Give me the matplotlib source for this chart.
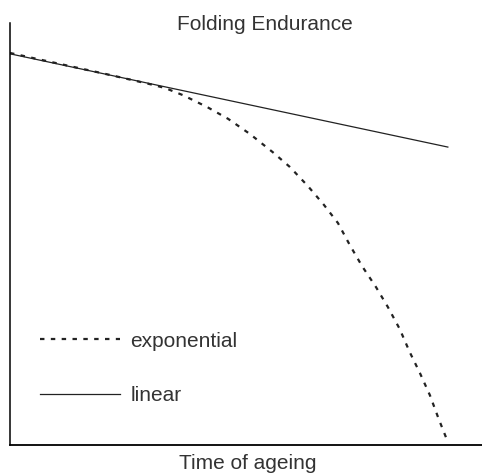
import matplotlib
matplotlib.use("Agg")
from matplotlib import pyplot as plt

plt.rcParams['font.family'] = ['Liberation Sans', 'DejaVu Sans']
plt.rcParams['lines.scale_dashes'] = False

# time of ageing (arbitrary units) and folding endurance (arbitrary units)
t_lin = [0.0, 10.0]
fe_lin = [92.7, 70.6]

t_exp = [0.0, 1.14, 2.28, 3.20, 3.54, 3.95, 4.50, 4.98, 5.48, 6.00, 6.39,
         6.80, 7.17, 7.49, 7.76, 8.04, 8.36, 8.63, 8.90, 9.13, 9.36, 9.59,
         9.79, 10.0]
fe_exp = [92.9, 90.3, 87.7, 85.5, 84.6, 82.9, 80.1, 77.3, 73.7, 69.4, 65.9,
          61.4, 56.9, 52.6, 47.4, 42.4, 37.4, 32.7, 27.5, 22.0, 17.1, 11.8,
          6.2, 0.7]

fig = plt.figure(figsize=(4.82, 4.73), dpi=100)
ax = fig.add_axes([10 / 482, 28 / 473, 472 / 482, 422 / 473])

col = '#222222'
ax.plot(t_exp, fe_exp, color=col, lw=1.6, dashes=(3.2, 4.6), label='exponential')
ax.plot(t_lin, fe_lin, color=col, lw=0.9, label='linear')

ax.set_xlim(0, 10.78)
ax.set_ylim(0, 100)
ax.set_xticks([])
ax.set_yticks([])
for s in ['top', 'right']:
    ax.spines[s].set_visible(False)
ax.spines['left'].set_linewidth(1.1)
ax.spines['bottom'].set_linewidth(1.3)

ax.legend(loc='lower left', bbox_to_anchor=(0.064, 0.095), frameon=False,
          fontsize=15, handlelength=3.85, handletextpad=0.48,
          labelspacing=1.69, borderpad=0, borderaxespad=0, labelcolor='#333333')

fig.text(265 / 482, 1 - 30 / 473, 'Folding Endurance', ha='center', va='baseline',
         fontsize=15, color='#333333')
fig.text(248 / 482, 1 - 469 / 473, 'Time of ageing', ha='center', va='baseline',
         fontsize=15, color='#333333')

fig.savefig('out.png', dpi=100)
